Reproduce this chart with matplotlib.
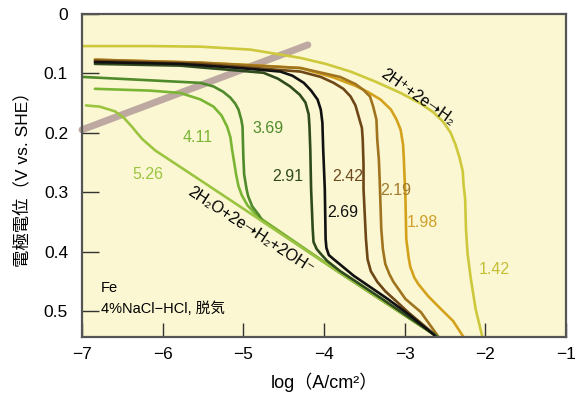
import matplotlib
matplotlib.use("Agg")
import matplotlib.pyplot as plt
from matplotlib.ticker import FixedLocator, FixedFormatter

plt.rcParams['font.family'] = ['Liberation Sans', 'DejaVu Sans', 'Noto Sans CJK JP']

# ---- data (log i [A/cm2], potential [V vs SHE]) ----
x_142 = [-7.00, -6.16, -5.53, -4.91, -4.29, -3.98, -3.67, -3.36, -3.05, -2.80, -2.64, -2.52, -2.43, -2.37, -2.32, -2.28, -2.27, -2.25, -2.24, -2.22, -2.18, -2.12, -2.04, -2.03]
y_142 = [0.054, 0.054, 0.055, 0.060, 0.074, 0.084, 0.097, 0.114, 0.133, 0.151, 0.166, 0.182, 0.200, 0.220, 0.242, 0.265, 0.288, 0.312, 0.362, 0.404, 0.446, 0.497, 0.542, 0.552]

x_198 = [-6.84, -5.53, -4.91, -4.29, -3.88, -3.61, -3.46, -3.30, -3.17, -3.10, -3.05, -3.02, -3.01, -3.00, -2.99, -2.98, -2.95, -2.93, -2.88, -2.83, -2.71, -2.55, -2.40, -2.28, -2.23]
y_198 = [0.077, 0.082, 0.086, 0.091, 0.107, 0.121, 0.131, 0.144, 0.161, 0.178, 0.195, 0.220, 0.245, 0.279, 0.312, 0.379, 0.411, 0.426, 0.444, 0.455, 0.475, 0.497, 0.517, 0.542, 0.552]

x_219 = [-6.84, -5.53, -4.29, -3.80, -3.61, -3.51, -3.43, -3.39, -3.35, -3.34, -3.32, -3.31, -3.29, -3.27, -3.24, -3.19, -3.14, -2.99, -2.80, -2.59, -2.53]
y_219 = [0.077, 0.082, 0.091, 0.106, 0.118, 0.128, 0.139, 0.156, 0.178, 0.211, 0.245, 0.279, 0.362, 0.396, 0.421, 0.438, 0.451, 0.480, 0.502, 0.542, 0.552]

x_242 = [-6.84, -5.53, -4.29, -4.04, -3.88, -3.76, -3.67, -3.61, -3.57, -3.53, -3.52, -3.51, -3.51, -3.48, -3.46, -3.42, -3.34, -3.24, -3.11, -2.96, -2.61, -2.55]
y_242 = [0.079, 0.084, 0.097, 0.106, 0.116, 0.126, 0.139, 0.154, 0.173, 0.192, 0.211, 0.254, 0.295, 0.379, 0.413, 0.433, 0.451, 0.467, 0.483, 0.502, 0.542, 0.552]

x_269 = [-6.84, -5.78, -5.04, -4.54, -4.39, -4.25, -4.16, -4.08, -4.04, -4.02, -4.01, -3.99, -3.98, -3.97, -3.94, -3.88, -3.63, -3.21, -2.93, -2.64, -2.58]
y_269 = [0.081, 0.084, 0.091, 0.097, 0.104, 0.116, 0.129, 0.144, 0.161, 0.183, 0.228, 0.295, 0.379, 0.394, 0.406, 0.413, 0.441, 0.480, 0.508, 0.540, 0.552]

x_291 = [-6.84, -5.78, -4.75, -4.57, -4.42, -4.30, -4.23, -4.19, -4.18, -4.17, -4.16, -4.14, -4.13, -4.09, -4.04, -3.96, -3.80, -3.30, -2.61, -2.55]
y_291 = [0.084, 0.087, 0.099, 0.109, 0.122, 0.136, 0.149, 0.169, 0.190, 0.228, 0.295, 0.362, 0.384, 0.396, 0.404, 0.416, 0.433, 0.478, 0.542, 0.552]

x_369 = [-6.99, -5.53, -5.37, -5.25, -5.16, -5.10, -5.06, -5.025, -5.01, -5.00, -4.99, -4.96, -4.94, -4.89, -4.81, -4.76, -3.80, -2.60, -2.50]
y_369 = [0.106, 0.116, 0.122, 0.131, 0.141, 0.151, 0.161, 0.178, 0.190, 0.240, 0.270, 0.295, 0.307, 0.324, 0.338, 0.349, 0.436, 0.543, 0.552]

x_411 = [-6.84, -6.16, -5.78, -5.53, -5.37, -5.27, -5.20, -5.16, -5.14, -5.11, -5.09, -5.06, -5.02, -4.95, -4.83, -3.80, -2.60, -2.50]
y_411 = [0.126, 0.129, 0.133, 0.144, 0.156, 0.171, 0.190, 0.208, 0.228, 0.253, 0.270, 0.290, 0.305, 0.322, 0.340, 0.436, 0.543, 0.552]

x_526 = [-6.95, -6.78, -6.59, -6.48, -6.38, -6.32, -6.25, -6.09, -5.51, -3.80, -2.60, -2.50]
y_526 = [0.154, 0.156, 0.164, 0.175, 0.190, 0.200, 0.211, 0.230, 0.282, 0.436, 0.543, 0.552]

gray_x = [-7.0, -4.2]
gray_y = [0.195, 0.052]

xticks = [-7, -6, -5, -4, -3, -2, -1]
xticklabels = ['\u22127', '\u22126', '\u22125', '\u22124', '\u22123', '\u22122', '\u22121']
yticks = [0, 0.1, 0.2, 0.3, 0.4, 0.5]
yticklabels = ['0', '0.1', '0.2', '0.3', '0.4', '0.5']

curves = [
    ('1.42', x_142, y_142, '#CEC83C', '#C4BE36', -1.89, 0.430),
    ('1.98', x_198, y_198, '#D4A11C', '#D0A02A', -2.78, 0.351),
    ('2.19', x_219, y_219, '#A0741E', '#A07A2C', -3.11, 0.297),
    ('2.42', x_242, y_242, '#6E4717', '#6E4A20', -3.71, 0.273),
    ('4.11', x_411, y_411, '#7BB534', '#7BB534', -5.57, 0.208),
    ('3.69', x_369, y_369, '#4F8A2B', '#4F8A2B', -4.70, 0.193),
    ('5.26', x_526, y_526, '#9CC441', '#9CC441', -6.18, 0.270),
    ('2.91', x_291, y_291, '#2F4B1E', '#2F4B1E', -4.45, 0.273),
    ('2.69', x_269, y_269, '#111111', '#111111', -3.77, 0.334),
]

fig = plt.figure(figsize=(5.81, 3.98), dpi=100)
ax = fig.add_axes([82/581, 1-337/398, (566-82)/581, (337-14)/398])
ax.set_facecolor('#FAF7D2')

ax.plot(gray_x, gray_y, color='#BDA9A1', lw=5, solid_capstyle='round', zorder=1, clip_on=False)

for lab, xs, ys, c, tc, tx, ty in curves:
    ax.plot(xs, ys, color=c, lw=1.9, solid_joinstyle='round', solid_capstyle='round', zorder=2)
    ax.text(tx, ty, lab, color=tc, fontsize=11.5, ha='center', va='center', zorder=3)

ax.text(-2.84, 0.141, '2H\u207A+2e\u279DH\u2082', rotation=-35, fontsize=11.5,
        ha='center', va='center', rotation_mode='anchor', zorder=3)
ax.text(-4.91, 0.365, '2H\u2082O+2e\u279DH\u2082+2OH\u207B', rotation=-33, fontsize=11.5,
        ha='center', va='center', rotation_mode='anchor', zorder=3)

ax.text(-6.77, 0.461, 'Fe', fontsize=10.5, ha='left', va='center')
ax.text(-6.77, 0.497, '4%NaCl\u2212HCl, 脱気', fontsize=10.5, ha='left', va='center')

ax.set_xlim(-7, -1)
ax.set_ylim(0.544, 0)
ax.xaxis.set_major_locator(FixedLocator(xticks))
ax.xaxis.set_major_formatter(FixedFormatter(xticklabels))
ax.yaxis.set_major_locator(FixedLocator(yticks))
ax.yaxis.set_major_formatter(FixedFormatter(yticklabels))

ax.tick_params(axis='x', direction='in', length=10, width=1, color='#333333', labelsize=12.5, pad=7)
ax.tick_params(axis='y', direction='in', length=12, width=1, color='#333333', labelsize=12.5, pad=10)
for s in ax.spines.values():
    s.set_color('#555555')
    s.set_linewidth(1.6)

ax.set_xlabel('log\uff08A/cm\u00b2\uff09', fontsize=13, labelpad=8)
ax.set_ylabel('電極電位\uff08V vs. SHE\uff09', fontsize=12.5, labelpad=10)

fig.savefig('out.png', dpi=100)
